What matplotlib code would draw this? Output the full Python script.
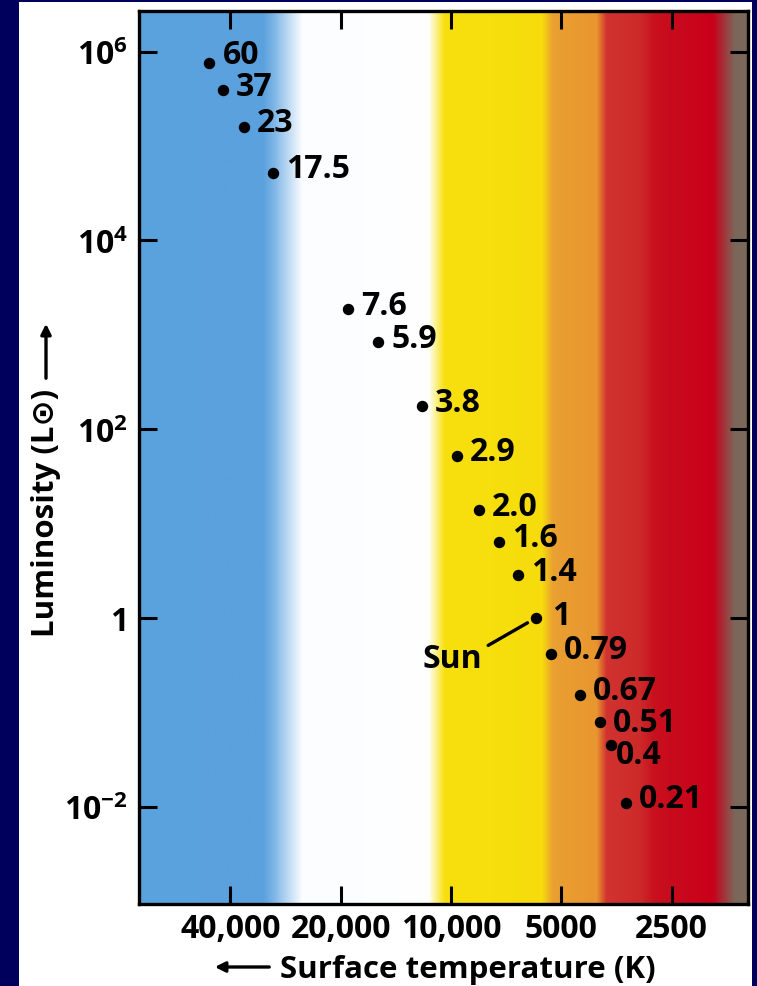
import numpy as np
import matplotlib
matplotlib.use("Agg")
import matplotlib.pyplot as plt
from matplotlib.colors import LinearSegmentedColormap
from matplotlib.patches import Rectangle, FancyArrowPatch

plt.rcParams['font.family'] = ['Open Sans', 'DejaVu Sans']
plt.rcParams['font.weight'] = 'bold'
plt.rcParams['mathtext.fontset'] = 'custom'
plt.rcParams['mathtext.rm'] = 'Open Sans:bold'
plt.rcParams['mathtext.bf'] = 'Open Sans:bold'
plt.rcParams['mathtext.default'] = 'rm'

# main-sequence stars: surface temperature (K), luminosity (L_sun), mass label (M_sun)
temps = [45700, 41900, 36700, 30600, 19100, 15800, 12000, 9630, 8390,
         7400, 6560, 5860, 5330, 4440, 3920, 3660, 3330]
lums = [7.6e5, 3.9e5, 1.6e5, 5.2e4, 1.86e3, 8.3e2, 175, 52, 13.9,
        6.4, 2.85, 1.0, 0.42, 0.153, 0.079, 0.045, 0.011]
masses = ["60", "37", "23", "17.5", "7.6", "5.9", "3.8", "2.9", "2.0",
          "1.6", "1.4", "1", "0.79", "0.67", "0.51", "0.4", "0.21"]

xticks = [40000, 20000, 10000, 5000, 2500]
xticklabels = ["40,000", "20,000", "10,000", "5000", "2500"]
yticks = [1e6, 1e4, 1e2, 1, 1e-2]
yticklabels = [r"$10^{6}$", r"$10^{4}$", r"$10^{2}$", "1", r"$10^{-2}$"]

# background colour bands (position along axis width, colour)
band_stops = [
    (0.000, "#5aa3de"), (0.204, "#5aa1dd"), (0.222, "#80b6e7"),
    (0.268, "#fbfdff"), (0.475, "#ffffff"), (0.502, "#f8e00e"),
    (0.662, "#f6dc0c"), (0.680, "#eaa032"), (0.752, "#e8962f"),
    (0.768, "#d13330"), (0.823, "#cc2a2a"), (0.847, "#c8101e"),
    (0.943, "#c9001a"), (0.979, "#7c675a"), (1.000, "#7a6a5c"),
]

fig = plt.figure(figsize=(7.57, 9.87), dpi=100)
fig.patch.set_facecolor("#00005c")
fig.patches.append(Rectangle((19 / 757, 0), (752 - 19) / 757, 1 - 3 / 987,
                             transform=fig.transFigure, facecolor="white",
                             edgecolor="none", zorder=-1))

ax = fig.add_axes([139 / 757, 82 / 987, 609 / 757, 893 / 987], zorder=2)
ax.set_xscale("log")
ax.set_yscale("log")
ax.set_xlim(71000, 1546)
ax.set_ylim(10 ** -3.03, 10 ** 6.43)

cmap = LinearSegmentedColormap.from_list("bands", band_stops, N=1024)
grad = np.linspace(0, 1, 1024).reshape(1, -1)
ax.imshow(grad, cmap=cmap, extent=[0, 1, 0, 1], transform=ax.transAxes,
          aspect="auto", zorder=0, interpolation="bilinear")

ax.scatter(temps, lums, s=52, color="black", zorder=3)

for t, l, m in zip(temps, lums, masses):
    off = (13, 4)
    if m == "60":
        off = (14, 8)
    elif m == "1":
        off = (16, 2)
    elif m == "0.51":
        off = (13, 0)
    elif m == "0.4":
        off = (5, -9)
    ax.annotate(m, (t, l), xytext=off, textcoords="offset pixels",
                fontsize=23, fontweight="bold", va="center", ha="left", zorder=4)

# Sun pointer
ax.annotate("Sun", (temps[11], lums[11]), xytext=(-84, -41), textcoords="offset pixels",
            fontsize=23, fontweight="bold", ha="center", va="center", zorder=4,
            arrowprops=dict(arrowstyle="-", color="black", lw=2.4,
                            relpos=(1.0, 0.8), shrinkA=3, shrinkB=7))

ax.set_xticks(xticks)
ax.set_xticklabels(xticklabels)
ax.set_yticks(yticks)
ax.set_yticklabels(yticklabels)
ax.minorticks_off()
ax.tick_params(axis="both", which="major", direction="in", length=13, width=2.2,
               labelsize=23, top=True, right=True, labeltop=False, labelright=False)
ax.tick_params(axis="x", pad=6)
ax.tick_params(axis="y", pad=8)
for lab in ax.get_xticklabels() + ax.get_yticklabels():
    lab.set_fontweight("bold")
for s in ax.spines.values():
    s.set_linewidth(2.4)
    s.set_color("black")
    s.set_zorder(5)

# axis titles with arrows
fig.text(280 / 757, 1 - 970 / 987, "Surface temperature (K)", fontsize=22.5,
         fontweight="bold", ha="left", va="center")
fig.patches.append(FancyArrowPatch(
    (272 / 757, 1 - 968 / 987), (212 / 757, 1 - 968 / 987), transform=fig.transFigure,
    arrowstyle="-|>,head_length=6,head_width=3", color="black", lw=2.4))

fig.text(46 / 757, 1 - 513 / 987, "Luminosity (L\u2299)", fontsize=22.5,
         fontweight="bold", ha="center", va="center", rotation=90)
fig.patches.append(FancyArrowPatch(
    (46 / 757, 1 - 382 / 987), (46 / 757, 1 - 322 / 987), transform=fig.transFigure,
    arrowstyle="-|>,head_length=6,head_width=3", color="black", lw=2.4))

fig.savefig("out.png", dpi=100, facecolor=fig.get_facecolor())
